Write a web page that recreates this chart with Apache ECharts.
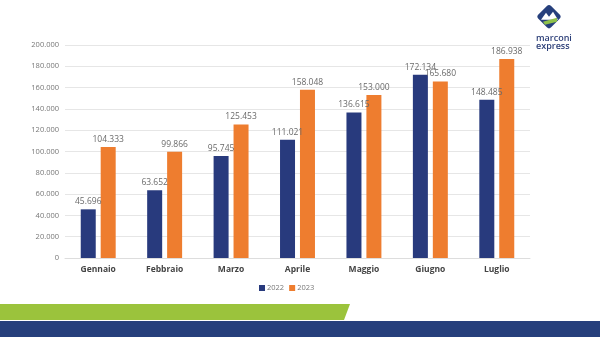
<!DOCTYPE html>
<html><head><meta charset="utf-8">
<script src="https://cdn.jsdelivr.net/npm/echarts@6/dist/echarts.min.js"></script>
<style>html,body{margin:0;padding:0;background:#fff}#c{width:600px;height:337px}</style>
</head><body><div id="c"></div>
<script>
var categories = ['Gennaio','Febbraio','Marzo','Aprile','Maggio','Giugno','Luglio'];
var seriesNames = ['2022','2023'];
var values2022 = [45696, 63652, 95745, 111021, 136615, 172134, 148485];
var values2023 = [104333, 99866, 125453, 158048, 153000, 165680, 186938];
var yMax = 200000, yInterval = 20000;

function fmt(v){ return String(v).replace(/\B(?=(\d{3})+(?!\d))/g,'.'); }

var chart = echarts.init(document.getElementById('c'));
var lbl = {show:true, position:'top', distance:3, color:'#6a6a6a', fontSize:8.5, fontFamily:'Open Sans', formatter:function(p){return fmt(p.value);}};
chart.setOption({
  animation:false,
  textStyle:{fontFamily:'Open Sans'},
  grid:{left:65, right:70, top:45, bottom:79, containLabel:false},
  legend:{data:seriesNames, left:254, top:279, itemWidth:6, itemHeight:6, itemGap:5, icon:'rect',
    textStyle:{color:'#777', fontSize:7.5, padding:[0,0,0,-3]}},
  xAxis:{type:'category', data:categories,
    axisLine:{show:true, lineStyle:{color:'#ddd'}}, axisTick:{show:false},
    axisLabel:{color:'#444', fontSize:8.5, fontWeight:'bold', margin:7}},
  yAxis:{type:'value', min:0, max:yMax, interval:yInterval,
    axisLine:{show:false}, axisTick:{show:false},
    splitLine:{lineStyle:{color:'#e6e6e6'}},
    axisLabel:{color:'#777', fontSize:7.5, margin:6, formatter:function(v){return fmt(v);}}},
  series:[
    {name:seriesNames[0], type:'bar', data:values2022, barWidth:15, barGap:'33%', itemStyle:{color:'#283a7d'}, label:lbl},
    {name:seriesNames[1], type:'bar', data:values2023, barWidth:15, itemStyle:{color:'#ee7d2f'}, label:lbl}
  ],
  graphic:[
    {type:'polygon', shape:{points:[[0,304],[350,304],[344,320],[0,320]]}, style:{fill:'#9bc33c'}, silent:true},
    {type:'rect', shape:{x:0,y:321,width:600,height:16}, style:{fill:'#263f7c'}, silent:true},
    {type:'group', left:536, top:4, children:[
      {type:'rect', shape:{x:-9,y:-9,width:18,height:18, r:3}, x:13, y:13, rotation:Math.PI/4, style:{fill:'#263f7c'}},
      {type:'polygon', shape:{points:[[5,16],[10,9],[13,13],[17,8],[22,16]]}, style:{fill:'#fff'}},
      {type:'polygon', shape:{points:[[7,18],[21,14],[21,18],[9,21]]}, style:{fill:'#8fc24a'}},
      {type:'text', x:0, y:30, style:{text:'marconi', fill:'#2c3f78', font:'600 9px Open Sans'}},
      {type:'text', x:0, y:38, style:{text:'express', fill:'#2c3f78', font:'600 9px Open Sans'}}
    ]}
  ]
});
</script></body></html>
